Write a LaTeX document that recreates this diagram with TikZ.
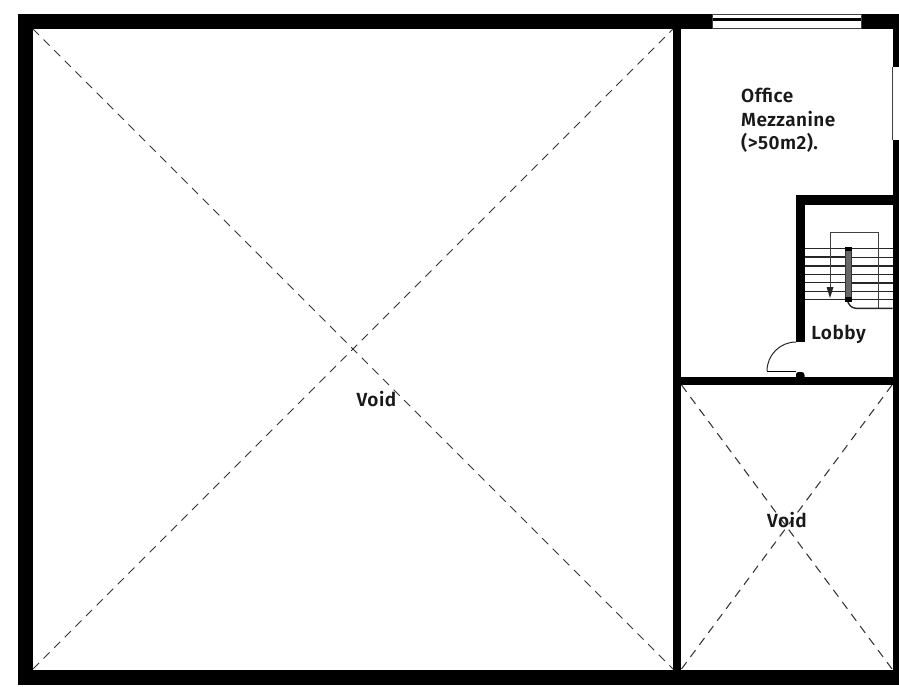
\documentclass[tikz,border=0pt]{standalone}
\usepackage{fontspec}
\setmainfont{Fira Sans SemiBold}[LetterSpace=2.5]
\tikzset{
  wall/.style={fill=black,draw=none},
  thin/.style={draw=black!75,line width=0.7pt},
  tread/.style={draw=black!85,line width=1.4pt},
  diag/.style={draw=black!80,line width=1.05pt,dash pattern=on 8.5pt off 6.5pt},
  lbl/.style={font=\fontsize{19}{23.5}\selectfont,align=left,text=black!90,inner sep=0pt}
}
\begin{document}
\begin{tikzpicture}[x=1pt,y=-1pt]
\useasboundingbox (0,0) rectangle (899,687);
\fill[white] (0,0) rectangle (899,687);
% diagonals
\draw[diag] (33,29) -- (673,669);
\draw[diag] (33,669) -- (673,29);
\draw[diag] (681.5,385) -- (892,669);
\draw[diag] (681.5,669) -- (892,385);
% outer walls
\fill[wall] (18,14) rectangle (33,685);
\fill[wall] (18,669.5) rectangle (899,685);
\fill[wall] (18,14) rectangle (712,29);
\fill[wall] (861,14) rectangle (899,29);
\fill[wall] (892.5,14) rectangle (899,67);
\fill[wall] (892.5,140) rectangle (899,685);
\draw[thin] (892.8,67) -- (892.8,140);
% inner walls
\fill[wall] (672.8,14) rectangle (681.4,685);
\fill[wall] (681,376.8) rectangle (899,385);
\fill[wall] (795.8,195.5) rectangle (899,205);
\fill[wall] (795.8,195.5) rectangle (804.5,342);
\fill[wall] (796,377) -- (796,374.5) .. controls (796,373) and (797,372) .. (798.5,372) -- (801.5,372) .. controls (803.3,372) and (804.5,373.2) .. (804.5,375) -- (804.5,377) -- cycle;
% window
\draw[thin] (712,14.5) -- (861,14.5);
\fill[wall] (712,17.6) rectangle (861,21);
\draw[thin] (712,28.5) -- (861,28.5);
\draw[thin] (712,14) -- (712,29);
\draw[thin] (861,14) -- (861,29);
% door
\draw[line width=1pt,draw=black!85] (796,342) .. controls (780,342) and (767,355) .. (767,371);
\draw[line width=1.5pt] (767,371.6) -- (796,371.6);
% stairs
\foreach \y in {248.7,257,265.8,274.3,282.7,291.2,299.4}
  \draw[tread] (804.5,\y) -- (846,\y);
\foreach \y in {248.7,257.5,266,274.3,283,291.2,299.6}
  \draw[tread] (851,\y) -- (892.5,\y);
\draw[thin] (830,287) -- (830,232.5) -- (878,232.5) -- (878,308.5);
\fill[black!85] (826.5,287) -- (833.5,287) -- (830,298) -- cycle;
\draw[tread] (847,300) .. controls (849,305) and (851,308) .. (856,308.3) -- (892.5,308.3);
\draw[draw=black!80,fill=black!60,line width=1.4pt] (845.5,249) rectangle (851.5,299);
\fill[black] (844.5,247) rectangle (852,251);
\fill[black] (844.5,297) rectangle (852,301.5);
% labels
\node[lbl,anchor=base west] (office) at (741,102.5) {Office};
\node[lbl,anchor=base west] (mezz) at (741,126.5) {Mezzanine};
\node[lbl,anchor=base west] (area) at (741,149.5) {(>50m2).};
\node[lbl,anchor=base] (lobby) at (838.5,339) {Lobby};
\node[lbl,anchor=base] (void1) at (376.5,406) {Void};
\node[lbl,anchor=base] (void2) at (787,527) {Void};
\end{tikzpicture}
\end{document}
